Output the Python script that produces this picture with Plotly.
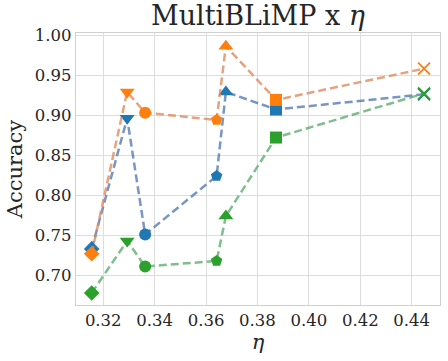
import plotly.graph_objects as go

# eta value for each model checkpoint
eta = [0.3155, 0.3293, 0.3363, 0.3641, 0.3677, 0.3872, 0.4448]

# accuracy on MultiBLiMP for the three series
acc_blue = [0.733, 0.896, 0.751, 0.824, 0.929, 0.907, 0.926]
acc_orange = [0.727, 0.929, 0.903, 0.894, 0.986, 0.919, 0.958]
acc_green = [0.678, 0.743, 0.711, 0.718, 0.774, 0.872, 0.927]

symbols = ["diamond", "triangle-down", "circle", "pentagon", "triangle-up", "square", "x-thin"]
sizes = [12, 13, 12, 12, 13, 12, 12]

series = [
    (acc_blue, "#1f77b4", "rgba(76,114,176,0.75)"),
    (acc_orange, "#ff7f0e", "rgba(221,132,82,0.75)"),
    (acc_green, "#2ca02c", "rgba(85,168,104,0.75)"),
]

fig = go.Figure()
for acc, mcolor, lcolor in series:
    fig.add_trace(
        go.Scatter(
            x=eta,
            y=acc,
            mode="lines+markers",
            line=dict(color=lcolor, width=2.5, dash="8px,4px"),
            marker=dict(
                symbol=symbols,
                size=sizes,
                color=mcolor,
                opacity=1,
                line=dict(color=mcolor, width=[0, 0, 0, 0, 0, 0, 1.8]),
            ),
            showlegend=False,
        )
    )

font = "DejaVu Serif"
fig.update_layout(
    width=448,
    height=361,
    margin=dict(l=76, r=8, t=33, b=56),
    paper_bgcolor="white",
    plot_bgcolor="white",
    font=dict(family=font, size=16, color="#262626"),
    title=dict(
        text="MultiBLiMP x <i>η</i>",
        x=0.576,
        xanchor="center",
        y=0.956,
        yanchor="middle",
        font=dict(family=font, size=27, color="#262626"),
    ),
)
axis_style = dict(
    showgrid=True,
    gridcolor="#dddddd",
    gridwidth=1,
    zeroline=False,
    showline=True,
    mirror=True,
    linecolor="#d0d0d0",
    linewidth=1.3,
    ticks="",
    automargin=False,
    tickfont=dict(family=font, size=16.5, color="#262626"),
)
fig.update_xaxes(
    range=[0.3094, 0.4510],
    tickvals=[0.32, 0.34, 0.36, 0.38, 0.40, 0.42, 0.44],
    tickformat=".2f",
    title=dict(text="<i>η</i>", font=dict(family=font, size=21), standoff=2),
    **axis_style,
)
fig.update_yaxes(
    range=[0.663, 1.0025],
    tickvals=[0.70, 0.75, 0.80, 0.85, 0.90, 0.95, 1.00],
    tickformat=".2f",
    title=dict(text="Accuracy", font=dict(family=font, size=21), standoff=6),
    **axis_style,
)

# drop the default body margin so the figure fills the window from the corner
fig.write_html(
    "out.html",
    config={"displayModeBar": False},
    post_script="document.body.style.margin = '0';",
)
